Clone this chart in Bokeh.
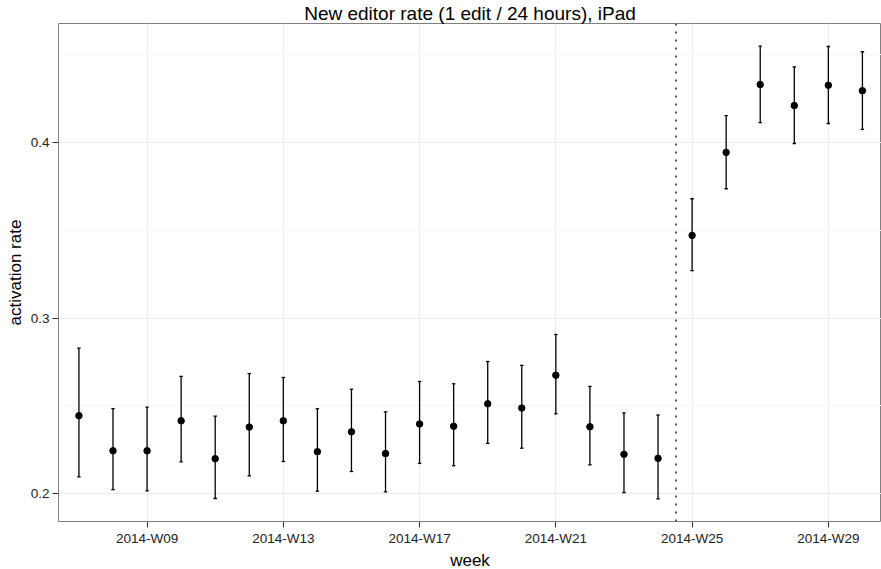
from bokeh.plotting import figure
from bokeh.models import ColumnDataSource, FixedTicker, Span, Range1d, Title
from bokeh.embed import file_html
from bokeh.resources import INLINE

# ---- data ----
week_labels = ["2014-W07", "2014-W08", "2014-W09", "2014-W10", "2014-W11", "2014-W12",
               "2014-W13", "2014-W14", "2014-W15", "2014-W16", "2014-W17", "2014-W18",
               "2014-W19", "2014-W20", "2014-W21", "2014-W22", "2014-W23", "2014-W24",
               "2014-W25", "2014-W26", "2014-W27", "2014-W28", "2014-W29", "2014-W30"]
week_num = [7, 8, 9, 10, 11, 12, 13, 14, 15, 16, 17, 18,
            19, 20, 21, 22, 23, 24, 25, 26, 27, 28, 29, 30]
rate = [0.2443, 0.2243, 0.2243, 0.2414, 0.2198, 0.2378, 0.2414, 0.2238, 0.2351, 0.2227,
        0.2396, 0.2383, 0.2511, 0.2487, 0.2674, 0.2380, 0.2223, 0.2200, 0.3471, 0.3944,
        0.4331, 0.4211, 0.4327, 0.4296]
lower = [0.2094, 0.2022, 0.2015, 0.2180, 0.1971, 0.2100, 0.2182, 0.2013, 0.2125, 0.2009,
         0.2171, 0.2158, 0.2285, 0.2258, 0.2454, 0.2163, 0.2005, 0.1969, 0.3270, 0.3737,
         0.4114, 0.3995, 0.4109, 0.4076]
upper = [0.2828, 0.2483, 0.2492, 0.2667, 0.2441, 0.2683, 0.2661, 0.2483, 0.2594, 0.2465,
         0.2638, 0.2625, 0.2752, 0.2730, 0.2906, 0.2610, 0.2459, 0.2447, 0.3680, 0.4154,
         0.4550, 0.4432, 0.4548, 0.4518]
x_tick_weeks = [9, 13, 17, 21, 25, 29]
x_tick_labels = ["2014-W09", "2014-W13", "2014-W17", "2014-W21", "2014-W25", "2014-W29"]
y_ticks = [0.2, 0.3, 0.4]
y_tick_labels = ["0.2", "0.3", "0.4"]
y_minor = [0.25, 0.35, 0.45]
deploy_week = 24.53  # dotted marker between W24 and W25

title_text = "New editor rate (1 edit / 24 hours), iPad"
x_title = "week"
y_title = "activation rate"

FONT = "Liberation Sans"

cap = 0.05
src = ColumnDataSource(dict(
    x=week_num, y=rate, lo=lower, hi=upper,
    xl=[w - cap for w in week_num], xr=[w + cap for w in week_num],
))

ymin, ymax = min(lower), max(upper)
pad = 0.05 * (ymax - ymin)

p = figure(width=881, height=569, output_backend="svg", toolbar_location=None,
           x_range=Range1d(6.4, 30.56), y_range=Range1d(ymin - pad, ymax + pad),
           title=title_text, min_border_left=0, min_border_right=0,
           min_border_top=0, min_border_bottom=0)

p.background_fill_color = "white"
p.border_fill_color = "white"
p.outline_line_color = "#7f7f7f"
p.outline_line_width = 1

# title
p.title.align = "center"
p.title.text_font = FONT
p.title.text_font_size = "19px"
p.title.text_font_style = "normal"
p.title.text_color = "black"
p.title.standoff = 0

# axis titles as side titles (compact)
p.add_layout(Title(text=x_title, align="center", text_font=FONT, text_font_size="17px",
                   text_font_style="normal", text_color="black", standoff=0), "below")
p.add_layout(Title(text=y_title, align="center", text_font=FONT, text_font_size="17px",
                   text_font_style="normal", text_color="black", standoff=6), "left")

# grids
p.xgrid.ticker = FixedTicker(ticks=x_tick_weeks)
p.xgrid.grid_line_color = "#ebebeb"
p.xgrid.grid_line_width = 1
p.ygrid.ticker = FixedTicker(ticks=y_ticks, minor_ticks=y_minor)
p.ygrid.grid_line_color = "#ebebeb"
p.ygrid.grid_line_width = 1
p.ygrid.minor_grid_line_color = "#f6f6f6"
p.ygrid.minor_grid_line_width = 1

# axes
p.xaxis.ticker = FixedTicker(ticks=x_tick_weeks)
p.xaxis.major_label_overrides = {w: l for w, l in zip(x_tick_weeks, x_tick_labels)}
p.yaxis.ticker = FixedTicker(ticks=y_ticks, minor_ticks=y_minor)
p.yaxis.major_label_overrides = {v: l for v, l in zip(y_ticks, y_tick_labels)}
for ax in (p.xaxis, p.yaxis):
    ax.axis_line_color = None
    ax.major_tick_line_color = "#333333"
    ax.major_tick_out = 6
    ax.major_tick_in = 0
    ax.minor_tick_line_color = None
    ax.major_label_text_font = FONT
    ax.major_label_text_font_size = "13.5px"
    ax.major_label_text_color = "#222222"
    ax.major_label_standoff = 3

# dotted vertical marker
p.add_layout(Span(location=deploy_week, dimension="height", line_color="#444444",
                  line_width=1.8, line_dash="2 6"))

# error bars
p.segment(x0="x", y0="lo", x1="x", y1="hi", source=src, line_color="black", line_width=1.3)
p.segment(x0="xl", y0="lo", x1="xr", y1="lo", source=src, line_color="black", line_width=1.3)
p.segment(x0="xl", y0="hi", x1="xr", y1="hi", source=src, line_color="black", line_width=1.3)
# points
p.scatter(x="x", y="y", source=src, size=6.5, fill_color="black", line_color="black")

open("out.html", "w").write(file_html(p, INLINE))
